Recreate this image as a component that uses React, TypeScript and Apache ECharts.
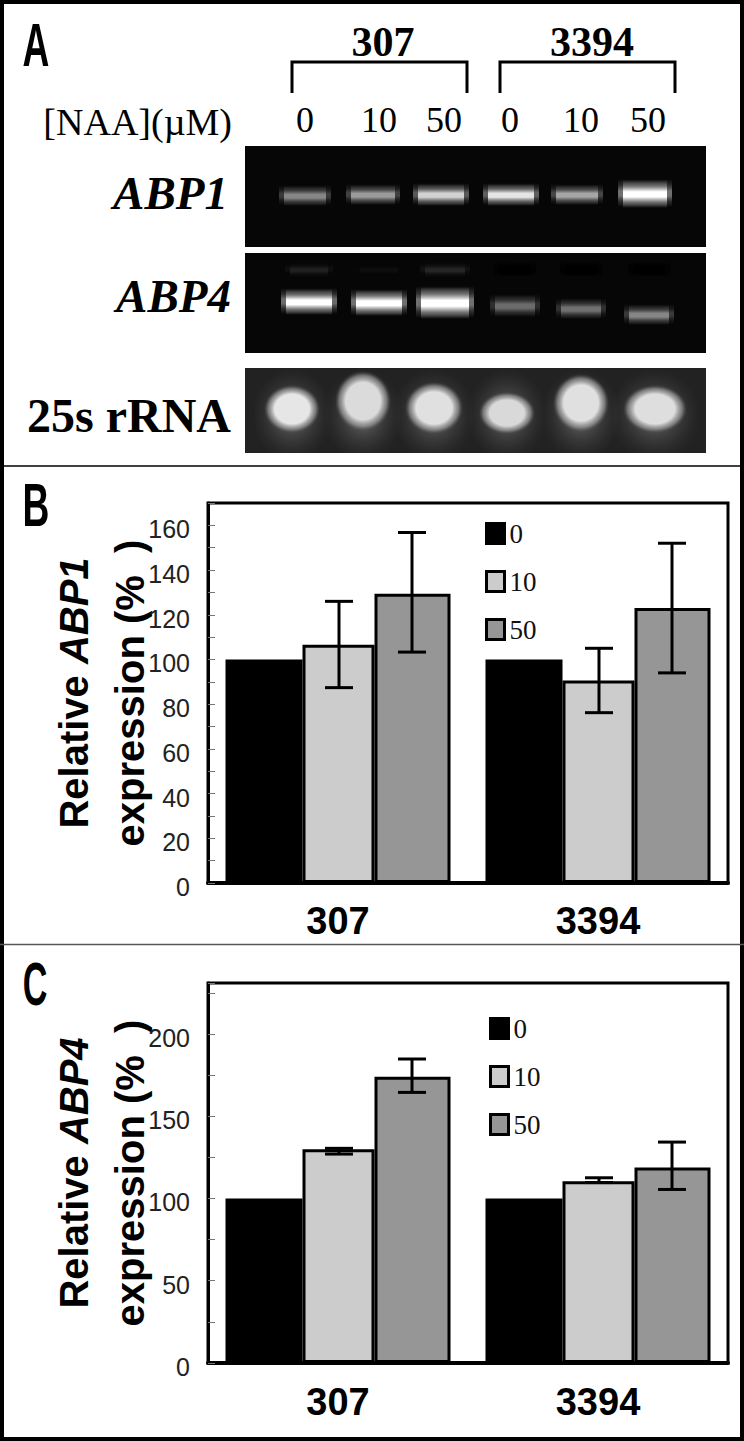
import React, { useEffect, useRef } from "react";
import * as echarts from "echarts";

// ---- data ----
const strains = ["307", "3394"];
const doses = ["0", "10", "50"];
const abp1Values = [
  [100, 100],
  [106.6, 90.6],
  [129.4, 123],
];
const abp1ErrLow = [
  [null, null],
  [87.4, 76.2],
  [103.3, 94],
];
const abp1ErrHigh = [
  [null, null],
  [126, 105],
  [156.8, 152],
];
const abp4Values = [
  [100, 100],
  [130, 110.5],
  [174, 118.9],
];
const abp4ErrLow = [
  [null, null],
  [127, 109.7],
  [164.5, 105.5],
];
const abp4ErrHigh = [
  [null, null],
  [130.5, 112.6],
  [184.8, 134.3],
];
const laneLabels = ["0", "10", "50", "0", "10", "50"];

// gel band brightness per lane (0-1)
const abp1Bands = [0.5, 0.58, 0.78, 0.85, 0.62, 1];
const abp4Bands = [0.95, 1, 1, 0.4, 0.42, 0.5];
const abp4Smear = [0.12, 0.05, 0.14, 0, 0, 0];
const rrnaBands = [0.9, 0.86, 0.88, 0.85, 0.88, 0.87];

// gel geometry, in px from the gel's top-left corner
const abp1X = [60, 128, 196, 266, 332, 400];
const abp1Y = [50, 49, 49, 49, 49, 48];
const abp1W = [52, 54, 56, 56, 52, 54];
const abp1H = [20, 20, 22, 22, 20, 28];
const abp4X = [64, 134, 200, 270, 336, 404];
const abp4Y = [156, 157, 157, 160, 163, 169];
const abp4W = [56, 56, 58, 50, 50, 50];
const abp4H = [26, 26, 32, 22, 20, 20];
const rrnaX = [47, 118, 189, 262, 336, 410];
const rrnaBottom = [287, 285, 288, 288, 286, 287];
const rrnaW = [56, 56, 58, 56, 56, 64];
const rrnaH = [48, 60, 52, 42, 58, 48];

const SERIF = "'Liberation Serif', serif";
const SANS = "'Liberation Sans', sans-serif";
const barWidths = [77, 72, 76];
const errOffsets = [0, 1, 74];
const barColors = ["#000000", "#cccccc", "#969696"];

const gray = (i: number, a = 1) => {
  const v = Math.round(Math.min(1, i) * 255);
  return `rgba(${v},${v},${v},${a})`;
};

function label(text: string, x: number, y: number, font: any, extra: any = {}) {
  const align = font.align || "center";
  return {
    type: "text",
    x,
    y,
    z: 5,
    ...extra,
    style: {
      text,
      fill: "#000",
      fontFamily: SERIF,
      ...font,
      align,
      textAlign: align,
      verticalAlign: "bottom",
      textVerticalAlign: "bottom",
    },
  };
}

const bandFill = (v: number) => ({
  type: "linear",
  x: 0,
  y: 0,
  x2: 0,
  y2: 1,
  colorStops: [
    { offset: 0, color: gray(v * 0.5, 0) },
    { offset: 0.22, color: gray(v * 0.5, 0.8) },
    { offset: 0.42, color: gray(Math.min(1, v * 1.05)) },
    { offset: 0.6, color: gray(Math.min(1, v * 1.05)) },
    { offset: 0.8, color: gray(v * 0.5, 0.8) },
    { offset: 1, color: gray(v * 0.5, 0) },
  ],
});

function bandSeries(xs: number[], ys: number[], ws: number[], hs: number[], vals: number[]) {
  return {
    type: "custom",
    xAxisIndex: 2,
    yAxisIndex: 2,
    z: 3,
    silent: true,
    data: vals.map((v, i) => [xs[i], ys[i], v, ws[i], hs[i]]),
    renderItem: (_: any, api: any) => {
      const p = api.coord([api.value(0), api.value(1)]);
      const v = api.value(2);
      const w = api.value(3);
      const h = api.value(4);
      return {
        type: "group",
        children: [
          {
            type: "rect",
            shape: { x: p[0] - w / 2, y: p[1] - h / 2 - 1, width: w, height: h },
            style: { fill: bandFill(v * 0.55), opacity: 0.75 },
          },
          {
            type: "rect",
            shape: { x: p[0] - w / 2 + 5, y: p[1] - h / 2, width: w - 10, height: h },
            style: { fill: bandFill(v) },
          },
        ],
      };
    },
  };
}

function blobSeries(xs: number[], bottoms: number[], ws: number[], hs: number[], vals: number[]) {
  return {
    type: "custom",
    xAxisIndex: 2,
    yAxisIndex: 2,
    z: 3,
    silent: true,
    data: vals.map((v, i) => [xs[i], bottoms[i], v, ws[i], hs[i]]),
    renderItem: (_: any, api: any) => {
      const p = api.coord([api.value(0), api.value(1)]);
      const top = api.coord([0, 222])[1];
      const end = api.coord([0, 307])[1];
      const v = api.value(2);
      const w = api.value(3);
      const h = api.value(4);
      const c = gray(v);
      return {
        type: "group",
        children: [
          {
            type: "rect",
            shape: { x: p[0] - w * 0.66, y: top, width: w * 1.32, height: end - top },
            style: {
              fill: {
                type: "radial",
                x: 0.5,
                y: 0.55,
                r: 0.55,
                colorStops: [
                  { offset: 0, color: "rgba(125,125,125,0.9)" },
                  { offset: 1, color: "rgba(60,60,60,0)" },
                ],
              },
            },
          },
          {
            type: "rect",
            shape: { x: p[0] - w / 2, y: p[1] - h, width: w, height: h },
            style: {
              fill: {
                type: "radial",
                x: 0.5,
                y: 0.5,
                r: 0.5,
                colorStops: [
                  { offset: 0, color: c },
                  { offset: 0.62, color: c },
                  { offset: 0.85, color: "rgba(150,150,150,0.7)" },
                  { offset: 1, color: "rgba(90,90,90,0)" },
                ],
              },
            },
          },
        ],
      };
    },
  };
}

function panelAxes(gridIndex: number, max: number, interval: number, labelEvery: number, gap: number) {
  return {
    x: {
      type: "category",
      gridIndex,
      data: strains,
      axisTick: { show: false },
      axisLine: { lineStyle: { color: "#000", width: 4 } },
      axisLabel: {
        margin: gap,
        fontFamily: SANS,
        fontWeight: "bold",
        fontSize: 38,
        color: "#000",
      },
    },
    y: {
      type: "value",
      gridIndex,
      min: 0,
      max,
      interval,
      splitLine: { show: false },
      axisLine: { show: true, lineStyle: { color: "#000", width: 3 } },
      axisTick: { show: true, inside: true, length: 7, lineStyle: { color: "#777", width: 1 } },
      axisLabel: {
        margin: 18,
        fontFamily: SANS,
        fontSize: 25,
        color: "#222",
        rich: { t: { fontFamily: SANS, fontSize: 25, color: "#222", padding: [8, 0, 0, 0] } },
        formatter: (v: number) => (v % labelEvery === 0 && v <= max - 10 ? `{t|${v}}` : ""),
      },
    },
  };
}

function errorSeries(i: number, grid: number, low: any[][], high: any[][]) {
  const off = errOffsets[i];
  const data = strains.map((_, c) => [c, low[i][c], high[i][c]]);
  return {
    type: "custom",
    xAxisIndex: grid,
    yAxisIndex: grid,
    z: 6,
    silent: true,
    encode: { x: 0, y: [1, 2] },
    data,
    renderItem: (_: any, api: any) => {
      const a = api.coord([api.value(0), api.value(1)]);
      const b = api.coord([api.value(0), api.value(2)]);
      const x = a[0] + off;
      const st = { stroke: "#000", lineWidth: 3, fill: "none" };
      return {
        type: "group",
        children: [
          { type: "line", shape: { x1: x, y1: a[1], x2: x, y2: b[1] }, style: st },
          { type: "line", shape: { x1: x - 14, y1: a[1], x2: x + 14, y2: a[1] }, style: st },
          { type: "line", shape: { x1: x - 14, y1: b[1], x2: x + 14, y2: b[1] }, style: st },
        ],
      };
    },
  };
}

function barSeries(grid: number, values: number[][]) {
  return doses.map((d, i) => ({
    name: d,
    type: "bar",
    xAxisIndex: grid,
    yAxisIndex: grid,
    barWidth: barWidths[i],
    barGap: "0%",
    data: values[i],
    itemStyle: { color: barColors[i], borderColor: "#000", borderWidth: 3 },
  }));
}

function legendFor(left: number, top: number) {
  return {
    left,
    top,
    orient: "vertical",
    icon: "rect",
    itemWidth: 18,
    itemHeight: 20,
    itemGap: 21,
    padding: 0,
    selectedMode: false,
    data: doses,
    itemStyle: { borderColor: "#000", borderWidth: 3 },
    textStyle: { fontFamily: SERIF, fontSize: 27, color: "#111", padding: [0, 0, 8, 0] },
  };
}

export default function App() {
  const ref = useRef<HTMLDivElement>(null);
  useEffect(() => {
    const chart = echarts.init(ref.current!, null, { renderer: "svg" });
    const b = panelAxes(0, 170, 10, 20, 19);
    const c = panelAxes(1, 231, 25, 50, 20);
    const name = (gene: string) => `{a|Relative }{i|${gene}}\n{a|expression (%  )}`;
    const nameRich = {
      a: { fontFamily: SANS, fontWeight: "bold", fontSize: 40, color: "#000", lineHeight: 56 },
      i: { fontFamily: SANS, fontWeight: "bold", fontStyle: "italic", fontSize: 40, color: "#000", lineHeight: 56 },
    };
    const withName = (y: any, gene: string) => ({
      ...y,
      name: name(gene),
      nameLocation: "middle",
      nameRotate: 90,
      nameGap: 50,
      nameMoveOverlap: false,
      nameTextStyle: { rich: nameRich, align: "center" },
    });

    const lanesX = [305, 379, 444, 510, 581, 648];
    const gelRect = (y: number, h: number, fill: string) => ({
      type: "rect",
      z: -1,
      shape: { x: 245, y, width: 461, height: h },
      style: { fill },
    });
    const bracket = (x1: number, x2: number) => ({
      type: "polyline",
      z: 5,
      shape: { points: [[x1, 93], [x1, 62], [x2, 62], [x2, 93]] },
      style: { stroke: "#000", lineWidth: 3, fill: "none" },
    });
    const letter = { fontFamily: SANS, fontWeight: "bold", fontSize: 62 };

    chart.setOption({
      animation: false,
      backgroundColor: "#fff",
      grid: [
        { left: 208, top: 503, width: 520, height: 380, show: true, borderColor: "#000", borderWidth: 3, backgroundColor: "transparent" },
        { left: 208, top: 983, width: 520, height: 380, show: true, borderColor: "#000", borderWidth: 3, backgroundColor: "transparent" },
        { left: 245, top: 146, width: 461, height: 307, show: false },
      ],
      xAxis: [b.x, c.x, { type: "value", gridIndex: 2, min: 0, max: 461, show: false }],
      yAxis: [
        withName(b.y, "ABP1"),
        withName(c.y, "ABP4"),
        { type: "value", gridIndex: 2, min: 0, max: 307, inverse: true, show: false },
      ],
      legend: [legendFor(485, 520), legendFor(489, 1015)],
      graphic: {
        elements: [
          // outer frame and dividers
          { type: "rect", z: 10, shape: { x: 2, y: 2, width: 740, height: 1437 }, style: { fill: "none", stroke: "#000", lineWidth: 4 } },
          { type: "line", z: 10, shape: { x1: 0, y1: 466, x2: 744, y2: 466 }, style: { stroke: "#000", lineWidth: 1.5 } },
          { type: "line", z: 10, shape: { x1: 0, y1: 944.5, x2: 744, y2: 944.5 }, style: { stroke: "#555", lineWidth: 1.5 } },
          // panel letters
          label("A", 36, 76, letter, { scaleX: 0.6 }),
          label("B", 36, 536, letter, { scaleX: 0.6 }),
          label("C", 35, 1015, letter, { scaleX: 0.55 }),
          // panel A header
          label("307", 383, 63, { fontWeight: "bold", fontSize: 42 }),
          label("3394", 592, 63, { fontWeight: "bold", fontSize: 42 }),
          bracket(292, 467),
          bracket(500, 675),
          label("[NAA](µM)", 232, 141, { fontSize: 38, align: "right" }),
          ...laneLabels.map((t, i) => label(t, lanesX[i], 138, { fontSize: 36 })),
          label("ABP1", 228, 216, { fontWeight: "bold", fontStyle: "italic", fontSize: 47, align: "right" }),
          label("ABP4", 231, 319, { fontWeight: "bold", fontStyle: "italic", fontSize: 47, align: "right" }),
          label("25s rRNA", 231, 439, { fontWeight: "bold", fontSize: 48, align: "right" }),
          // gel backgrounds
          gelRect(146, 101, "#060606"),
          gelRect(253, 100, "#060606"),
          gelRect(368, 85, "#222222"),
        ],
      },
      series: [
        ...barSeries(0, abp1Values),
        errorSeries(1, 0, abp1ErrLow, abp1ErrHigh),
        errorSeries(2, 0, abp1ErrLow, abp1ErrHigh),
        ...barSeries(1, abp4Values),
        errorSeries(1, 1, abp4ErrLow, abp4ErrHigh),
        errorSeries(2, 1, abp4ErrLow, abp4ErrHigh),
        bandSeries(abp1X, abp1Y, abp1W, abp1H, abp1Bands),
        bandSeries(abp4X, abp4Y, abp4W, abp4H, abp4Bands),
        bandSeries(abp4X, abp4Y.map(() => 124), abp4W.map((w) => w - 8), abp4H.map(() => 14), abp4Smear),
        blobSeries(rrnaX, rrnaBottom, rrnaW, rrnaH, rrnaBands),
      ],
    });
    return () => chart.dispose();
  }, []);
  return <div ref={ref} style={{ position: "absolute", left: 0, top: 0, width: 744, height: 1441 }} />;
}
